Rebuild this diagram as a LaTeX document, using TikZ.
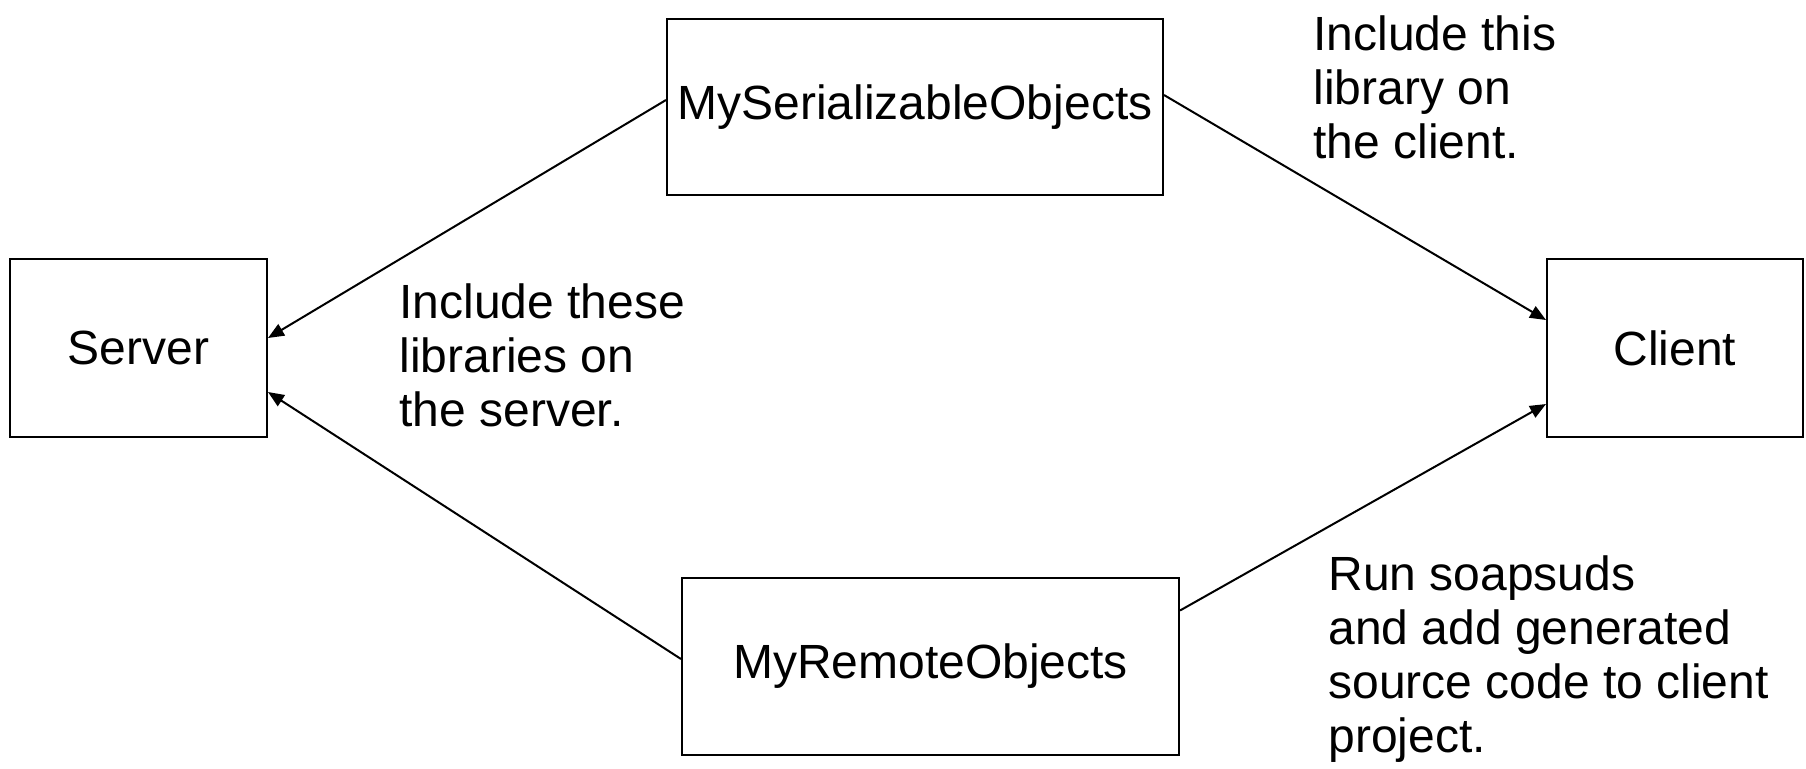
\documentclass[tikz,border=0pt]{standalone}
\usepackage{fontspec}
\setmainfont{Liberation Sans}
\usetikzlibrary{arrows.meta}
\begin{document}
\begin{tikzpicture}[x=0.5pt,y=-0.5pt,
  box/.style={draw,line width=1pt,inner sep=0pt,font=\fontsize{24}{27}\selectfont},
  note/.style={inner sep=0pt,align=left,anchor=north west,font=\fontsize{24}{27}\selectfont},
  conn/.style={line width=1pt,-{Triangle[length=8pt,width=6.5pt]}}]
\useasboundingbox (0,0) rectangle (1806,768);
\node[box,minimum width=248pt,minimum height=88pt] (ms) at (915,107) {MySerializableObjects};
\node[box,minimum width=128.5pt,minimum height=89pt] (srv) at (138.5,348) {Server};
\node[box,minimum width=128pt,minimum height=89pt] (cli) at (1675,348) {Client};
\node[box,minimum width=248.5pt,minimum height=88.5pt] (mr) at (930.5,666.5) {MyRemoteObjects};
\node[note] (t1) at (1313,15) {Include this\\library on\\the client.};
\node[note] (t2) at (399,283) {Include these\\libraries on\\the server.};
\node[note] (t3) at (1328,555) {Run soapsuds\\and add generated\\source code to client\\project.};
\draw[conn] ([yshift=3.5pt]ms.west) -- ([yshift=5pt]srv.east);
\draw[conn] ([yshift=6pt]ms.east) -- ([yshift=14pt]cli.west);
\draw[conn] ([yshift=3.75pt]mr.west) -- ([yshift=-22pt]srv.east);
\draw[conn] ([yshift=28pt]mr.east) -- ([yshift=-28pt]cli.west);
\end{tikzpicture}
\end{document}
